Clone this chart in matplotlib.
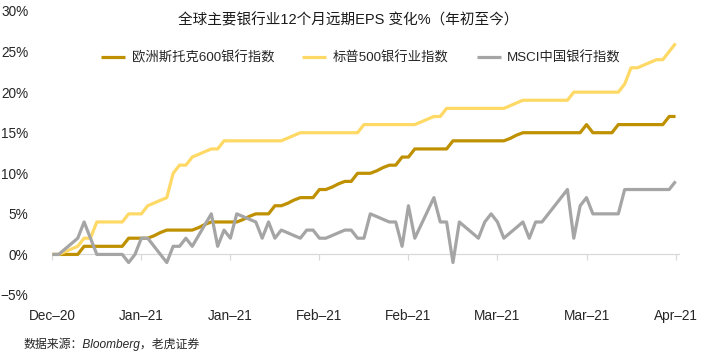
import matplotlib
matplotlib.use("Agg")
import matplotlib.pyplot as plt
import numpy as np

plt.rcParams['font.family'] = ['Liberation Sans', 'Noto Sans CJK SC', 'DejaVu Sans']
plt.rcParams['axes.unicode_minus'] = True

# daily index 0..98 (Dec-31-2020 .. Apr-2021), values in %
europe = [0, 0, 0, 0, 0,
          1, 1, 1, 1, 1, 1, 1,
          2, 2, 2, 2, 2.3, 2.7,
          3, 3, 3, 3, 3, 3.3, 3.7,
          4, 4, 4, 4, 4, 4.3, 4.7,
          5, 5, 5, 6, 6, 6.3, 6.7,
          7, 7, 7, 8, 8, 8.3, 8.7,
          9, 9, 10, 10, 10, 10.3, 10.7,
          11, 11, 12, 12,
          13, 13, 13, 13, 13, 13,
          14, 14, 14, 14, 14, 14, 14, 14, 14, 14.3, 14.7,
          15, 15, 15, 15, 15, 15, 15, 15, 15, 15,
          16, 15, 15, 15, 15,
          16, 16, 16, 16, 16, 16, 16, 16,
          17, 17]

sp500 = [0, 0, 0.33, 0.67, 1, 2, 2,
         4, 4, 4, 4, 4,
         5, 5, 5, 6, 6.33, 6.67, 7,
         10, 11, 11, 12, 12.33, 12.67, 13, 13,
         14, 14, 14, 14, 14, 14, 14, 14, 14, 14, 14.33, 14.67,
         15, 15, 15, 15, 15, 15, 15, 15, 15, 15,
         16, 16, 16, 16, 16, 16, 16, 16, 16, 16.33, 16.67,
         17, 17,
         18, 18, 18, 18, 18, 18, 18, 18, 18, 18, 18.33, 18.67,
         19, 19, 19, 19, 19, 19, 19, 19,
         20, 20, 20, 20, 20, 20, 20, 20,
         21, 23, 23, 23.33, 23.67, 24, 24, 25, 26]

msci = [0, 0, 0.67, 1.33, 2, 4, 2, 0, 0, 0, 0, 0, -1, 0, 2, 2, 1, 0, -1, 1,
        1, 2, 1, 2.33, 3.67, 5, 1, 3, 2, 5, 4.67, 4.33, 4, 2, 4, 2, 3, 2.67, 2.33, 2,
        3, 3, 2, 2, 2.33, 2.67, 3, 3, 2, 2, 5, 4.67, 4.33, 4, 4, 1, 6, 2, 3.67, 5.33,
        7, 4, 4, -1, 4, 3.33, 2.67, 2, 4, 5, 4, 2, 2.67, 3.33, 4, 2, 4, 4, 5, 6,
        7, 8, 2, 6, 7, 5, 5, 5, 5, 5, 8, 8, 8, 8, 8, 8, 8, 8, 9]

names = ['欧洲斯托克600银行指数', '标普500银行业指数', 'MSCI中国银行指数']
colors = ['#BF9000', '#FFD966', '#A5A5A5']
tick_labels = ['Dec–20', 'Jan–21', 'Jan–21', 'Feb–21', 'Feb–21', 'Mar–21', 'Mar–21', 'Apr–21']
title = '全球主要银行业12个月远期EPS 变化%（年初至今）'
source = '数据来源：Bloomberg，老虎证券'

x = np.arange(len(europe))
tick_pos = np.arange(0, 99, 14)

fig = plt.figure(figsize=(7.06, 3.56), dpi=100)
ax = fig.add_axes([52 / 706, 1 - 295 / 356, 628 / 706, 284 / 356])

for vals, name, c in zip([europe, sp500, msci], names, colors):
    ax.plot(x, vals, color=c, lw=2.3, label=name, solid_joinstyle='round',
            solid_capstyle='butt')

ax.axhline(0, color='#D9D9D9', lw=0.9, zorder=0)
ax.vlines(tick_pos, -0.65, 0, color='#D9D9D9', lw=0.9, zorder=0)

ax.set_xlim(-0.05, 98.7)
ax.set_ylim(-5, 30)
ax.set_yticks(np.arange(-5, 31, 5))
ax.set_yticklabels([f'{v}%' if v >= 0 else f'−{-v}%' for v in range(-5, 31, 5)])
ax.set_xticks(tick_pos)
ax.set_xticklabels(tick_labels)
ax.tick_params(axis='both', length=0, labelsize=9.8, colors='#262626')
ax.tick_params(axis='y', pad=17)
ax.tick_params(axis='x', pad=10)
for s in ax.spines.values():
    s.set_visible(False)

fig.text(348 / 706, 1 - 20 / 356, title, ha='center', va='center', fontsize=10.5,
         color='#1a1a1a')
fig.legend(loc='center', bbox_to_anchor=(361 / 706, 1 - 58 / 356), ncol=3,
           frameon=False, fontsize=9.6, handlelength=1.8, handletextpad=0.5,
           columnspacing=2.1, labelcolor='#262626')
fig.text(23 / 706, 1 - 344 / 356, source, ha='left', va='center', fontsize=8.6,
         style='italic', color='#262626')

fig.savefig('out.png', dpi=100)
